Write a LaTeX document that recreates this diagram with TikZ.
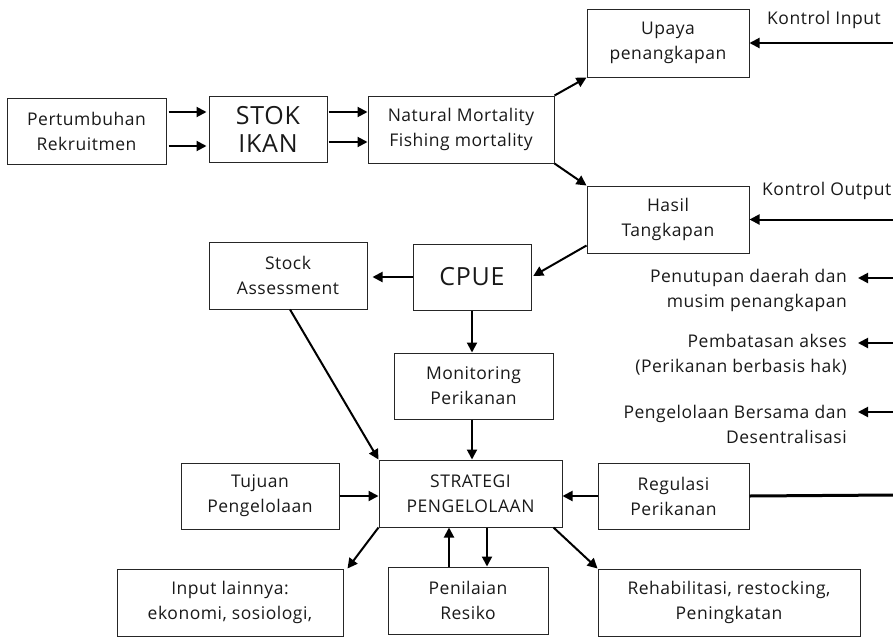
\documentclass[tikz,border=0pt]{standalone}
\usepackage{fontspec}
\setmainfont{Open Sans}[LetterSpace=3]
\usetikzlibrary{arrows.meta}
\begin{document}
\begin{tikzpicture}[x=1pt,y=-1pt,
  box/.style={draw=black!85, line width=1pt, align=center, inner sep=0pt,
    font=\fontsize{17.5}{25}\selectfont, text=black!90},
  big/.style={font=\fontsize{25}{28}\selectfont},
  arr/.style={line width=2pt, -{Triangle[length=10pt,width=10pt]}},
  plain/.style={font=\fontsize{17.5}{25}\selectfont, text=black!90, inner sep=0pt},
  side/.style={plain, align=right, anchor=east}]
\useasboundingbox (0,0) rectangle (893,637);
% boxes
\node[box, minimum width=159, minimum height=66] (pert) at (86.5,131) {Pertumbuhan\\Rekruitmen};
\node[box, big, minimum width=118, minimum height=66] (stok) at (268,129) {STOK\\IKAN};
\node[box, minimum width=186, minimum height=67] (nat) at (461,129.5) {Natural Mortality\\Fishing mortality};
\node[box, minimum width=162, minimum height=68] (upaya) at (668,43) {Upaya\\penangkapan};
\node[box, minimum width=162, minimum height=67] (hasil) at (668,219.5) {Hasil\\Tangkapan};
\node[box, big, minimum width=118, minimum height=66] (cpue) at (472,277) {CPUE};
\node[box, minimum width=158, minimum height=67] (stock) at (288,275.5) {Stock\\Assessment};
\node[box, minimum width=159, minimum height=66] (monit) at (473.5,386) {Monitoring\\Perikanan};
\node[box, minimum width=183, minimum height=67] (strat) at (470.5,493.5) {STRATEGI\\PENGELOLAAN};
\node[box, minimum width=158, minimum height=66] (tujuan) at (260,496) {Tujuan\\Pengelolaan};
\node[box, minimum width=151, minimum height=66] (regul) at (673.5,496) {Regulasi\\Perikanan};
\node[box, minimum width=226, minimum height=67] (input) at (230,602.5) {Input lainnya:\\ekonomi, sosiologi,};
\node[box, minimum width=160, minimum height=67] (penil) at (468,600.5) {Penilaian\\Resiko};
\node[box, minimum width=262, minimum height=67] (rehab) at (729,602.5) {Rehabilitasi, restocking,\\Peningkatan};
% side texts
\node[plain, anchor=west] (kin) at (767,20) {Kontrol Input};
\node[plain, anchor=west] (kout) at (762,191) {Kontrol Output};
\node[side] (t1) at (847,290) {Penutupan daerah dan\\musim penangkapan};
\node[side] (t2) at (847,355) {Pembatasan akses\\(Perikanan berbasis hak)};
\node[side] (t3) at (847,424) {Pengelolaan Bersama dan\\Desentralisasi};
% edge coordinates
\coordinate (eki) at (893,43);
\coordinate (eko) at (893,219.5);
\coordinate (e1) at (893,278);
\coordinate (e2) at (893,343);
\coordinate (e3) at (893,412);
\coordinate (ereg) at (893,495);
% top row arrows
\coordinate (p1) at ([yshift=19pt]pert.east);
\coordinate (p2) at ([yshift=-15pt]pert.east);
\draw[arr, shorten <=2pt, shorten >=2pt] (p1) -- (p1 -| stok.west);
\draw[arr, shorten <=2pt, shorten >=2pt] (p2) -- (p2 -| stok.west);
\coordinate (s1) at ([yshift=17pt]stok.east);
\coordinate (s2) at ([yshift=-13pt]stok.east);
\draw[arr, shorten <=1pt] (s1) -- (s1 -| nat.west);
\draw[arr, shorten <=1pt] (s2) -- (s2 -| nat.west);
\draw[arr] (nat.north east) -- (upaya.south west);
\draw[arr] (nat.south east) -- (hasil.north west);
\draw[arr] (eki) -- (upaya.east);
\draw[arr] (eko) -- (hasil.east);
% middle
\draw[arr, shorten >=2pt] ([yshift=8pt]hasil.south west) -- (cpue.east);
\draw[arr, shorten >=5pt] (cpue.west) -- (cpue.west -| stock.east);
\draw[arr] (cpue.south) -- (cpue.south |- monit.north);
\draw[arr] ([xshift=2pt]stock.south) -- (strat.north west);
\draw[arr] (monit.south -| cpue.south) -- (cpue.south |- strat.north);
% strategy
\draw[arr] (tujuan.east) -- (tujuan.east -| strat.west);
\draw[arr] (regul.west) -- (regul.west -| strat.east);
\draw[line width=3pt] (regul.east) -- (ereg);
\draw[arr] (strat.south west) -- ([xshift=4pt]input.north east);
\coordinate (pu) at ([xshift=-19pt]penil.north);
\coordinate (pd) at ([xshift=16.5pt]strat.south);
\draw[arr] (pu) -- (pu |- strat.south);
\draw[arr] (pd) -- (pd |- penil.north);
\draw[arr] ([xshift=-9pt]strat.south east) -- (rehab.north west);
% side arrows
\draw[arr, shorten >=11pt] (e1) -- (e1 -| t1.east);
\draw[arr, shorten >=11pt] (e2) -- (e2 -| t2.east);
\draw[arr, shorten >=11pt] (e3) -- (e3 -| t3.east);
\end{tikzpicture}
\end{document}
